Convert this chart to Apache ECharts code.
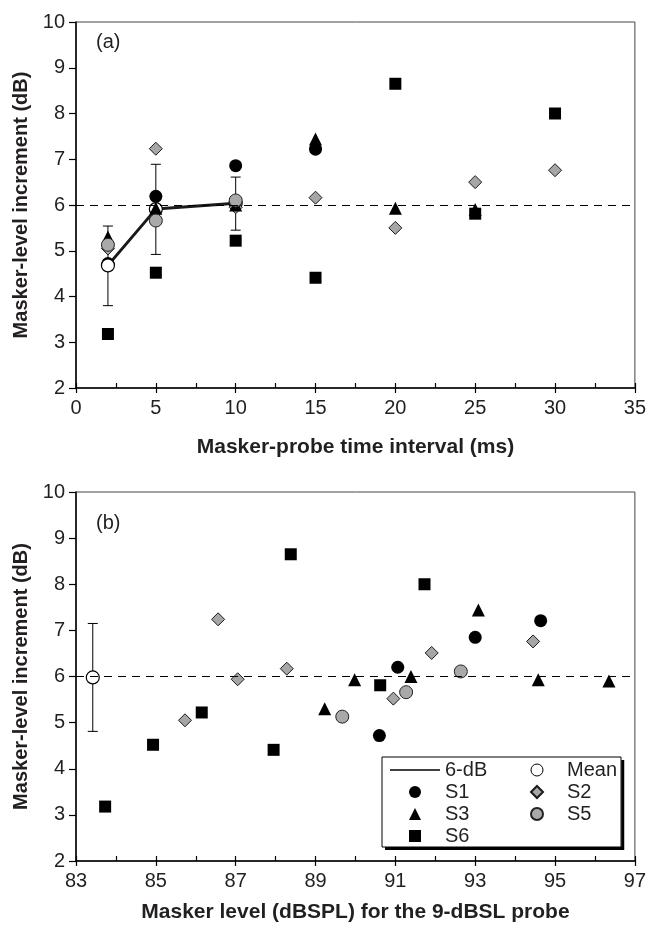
<!DOCTYPE html>
<html>
<head>
<meta charset="utf-8">
<script src="https://cdn.jsdelivr.net/npm/echarts@6/dist/echarts.min.js"></script>
<style>
html,body{margin:0;padding:0;background:#fff;}
#chart{width:649px;height:926px;}
</style>
</head>
<body>
<div id="chart"></div>
<script>
// ---------- Data ----------
// Panel (a): masker-probe time interval (ms)
const s1IntervalMs = [2, 5, 10, 15];
const s1IncA = [4.72, 6.19, 6.86, 7.22];
const s2IntervalMs = [2, 5, 10, 15, 20, 25, 30];
const s2IncA = [5.05, 7.23, 5.95, 6.16, 5.50, 6.50, 6.76];
const s3IntervalMs = [2, 5, 10, 15, 20, 25];
const s3IncA = [5.30, 5.93, 6.00, 7.44, 5.93, 5.90];
const s5IntervalMs = [2, 5, 10];
const s5IncA = [5.13, 5.66, 6.10];
const s6IntervalMs = [2, 5, 10, 15, 20, 25, 30];
const s6IncA = [3.18, 4.52, 5.22, 4.41, 8.65, 5.81, 8.00];
const meanIntervalMs = [2, 5, 10];
const meanIncA = [4.68, 5.91, 6.04];
const meanLowA = [3.80, 4.92, 5.45];
const meanHighA = [5.54, 6.89, 6.61];

// Panel (b): masker level (dBSPL) for the 9-dBSL probe
const s1Level = [90.60, 91.06, 93.00, 94.64];
const s1IncB = [4.72, 6.20, 6.85, 7.21];
const s2Level = [85.73, 86.56, 87.05, 88.28, 90.95, 91.91, 94.45];
const s2IncB = [5.05, 7.24, 5.94, 6.17, 5.52, 6.51, 6.76];
const s3Level = [89.23, 89.98, 91.39, 93.08, 94.58, 96.35];
const s3IncB = [5.30, 5.93, 6.00, 7.44, 5.93, 5.90];
const s5Level = [89.67, 91.27, 92.64];
const s5IncB = [5.13, 5.66, 6.11];
const s6Level = [83.73, 84.93, 86.15, 87.95, 88.38, 90.62, 91.73];
const s6IncB = [3.18, 4.52, 5.22, 4.41, 8.65, 5.81, 8.00];
const meanLevel = [83.42];
const meanIncB = [5.98];
const meanLowB = [4.81];
const meanHighB = [7.15];

const referenceLevel = 6; // 6-dB reference line

// axis settings
const xRangeA = [0, 35], xStepA = 5;
const xRangeB = [83, 97], xStepB = 2;
const yRange = [2, 10], yStep = 1;

// ---------- Helpers ----------
const zip = (xs, ys) => xs.map((x, i) => [x, ys[i]]);
const zip3 = (xs, lo, hi) => xs.map((x, i) => [x, lo[i], hi[i]]);
const FONT = '"Liberation Sans", Arial, Helvetica, sans-serif';
const TXT = '#231f20';

const GRID_A = { left: 76, right: 13, top: 22, height: 366 };
const GRID_B = { left: 76, right: 13, top: 492, height: 369 };

const STYLE = {
  S1: { symbol: 'circle', symbolSize: 13, itemStyle: { color: '#000', borderColor: '#000', borderWidth: 0, opacity: 1 } },
  S2: { symbol: 'diamond', symbolSize: 13, itemStyle: { color: '#a6a6a6', borderColor: '#1a1a1a', borderWidth: 1, opacity: 1 } },
  S3: { symbol: 'triangle', symbolSize: 13, itemStyle: { color: '#000', borderColor: '#000', borderWidth: 0, opacity: 1 } },
  S5: { symbol: 'circle', symbolSize: 13, itemStyle: { color: '#a9a9a9', borderColor: '#222', borderWidth: 1, opacity: 1 } },
  S6: { symbol: 'rect', symbolSize: 12, itemStyle: { color: '#000', borderColor: '#000', borderWidth: 0, opacity: 1 } },
  Mean: { symbol: 'circle', symbolSize: 13, itemStyle: { color: '#fff', borderColor: '#000', borderWidth: 1.2, opacity: 1 } }
};

function scatter(name, data, xi, yi) {
  return Object.assign({ type: 'scatter', name, data, xAxisIndex: xi, yAxisIndex: yi, z: 3 }, JSON.parse(JSON.stringify(STYLE[name])));
}

function renderErr(params, api) {
  const x = api.value(0), lo = api.value(1), hi = api.value(2);
  const a = api.coord([x, lo]), b = api.coord([x, hi]);
  const cap = 5;
  const st = { stroke: '#000', lineWidth: 1 };
  return {
    type: 'group',
    children: [
      { type: 'line', shape: { x1: a[0], y1: a[1], x2: b[0], y2: b[1] }, style: st },
      { type: 'line', shape: { x1: a[0] - cap, y1: a[1], x2: a[0] + cap, y2: a[1] }, style: st },
      { type: 'line', shape: { x1: b[0] - cap, y1: b[1], x2: b[0] + cap, y2: b[1] }, style: st }
    ]
  };
}

function mainX(grid, range, step, name, nameGap) {
  return {
    type: 'value', gridIndex: grid, position: 'bottom',
    min: range[0], max: range[1], interval: step,
    name, nameLocation: 'middle', nameGap,
    nameTextStyle: { fontFamily: FONT, fontSize: 21, fontWeight: 'bold', color: TXT },
    axisLine: { show: true, onZero: false, lineStyle: { color: '#000', width: 1.5 } },
    axisTick: { show: true, inside: false, length: 5, lineStyle: { color: '#000', width: 1.2 } },
    minorTick: { show: false },
    axisLabel: { margin: 10, fontFamily: FONT, fontSize: 20, color: TXT },
    splitLine: { show: false }
  };
}
// overlay axis to draw the upward (inside) ticks along the bottom edge
function tickX(grid, range, step, height) {
  return {
    type: 'value', gridIndex: grid, position: 'top', offset: -height,
    min: range[0], max: range[1], interval: step / 2,
    axisLine: { show: false },
    axisTick: { show: true, inside: false, length: 5, lineStyle: { color: '#000', width: 1.2 } },
    axisLabel: { show: false },
    splitLine: { show: false }
  };
}
function mainY(grid) {
  return {
    type: 'value', gridIndex: grid,
    min: yRange[0], max: yRange[1], interval: yStep,
    name: 'Masker-level increment (dB)', nameLocation: 'middle', nameGap: 42,
    nameTextStyle: { fontFamily: FONT, fontSize: 20, fontWeight: 'bold', color: TXT },
    axisLine: { show: true, onZero: false, lineStyle: { color: '#000', width: 1.5 } },
    axisTick: { show: true, inside: false, length: 7, lineStyle: { color: '#000', width: 1.2 } },
    axisLabel: { margin: 11, fontFamily: FONT, fontSize: 20, color: TXT },
    splitLine: { show: false }
  };
}

const dashedRef = (xi, yi, name) => ({
  type: 'line', name, xAxisIndex: xi, yAxisIndex: yi, data: [],
  symbol: 'none', lineStyle: { color: '#000', width: 1, type: 'solid' }, itemStyle: { color: '#000' },
  z: 1,
  markLine: {
    silent: true, symbol: ['none', 'none'], label: { show: false },
    lineStyle: { color: '#000', width: 1, type: [8, 6] },
    data: [{ yAxis: referenceLevel }]
  }
});

// legend icons (kept square by symbolKeepAspect)
const ICON = {
  line: 'path://M0,0 L50,0 L50,1.3 L0,1.3 Z',
  triangle: 'path://M5,0 L10,10 L0,10 Z',
  diamond: 'path://M5,0 L10,5 L5,10 L0,5 Z',
  rect: 'path://M0,0 L10,0 L10,10 L0,10 Z'
};

const legendCommon = {
  orient: 'vertical', itemWidth: 50, itemHeight: 12, itemGap: 2,
  selectedMode: false, symbolKeepAspect: true,
  textStyle: { fontFamily: FONT, fontSize: 20, lineHeight: 20, color: TXT }
};

const option = {
  animation: false,
  backgroundColor: '#fff',
  textStyle: { fontFamily: FONT },
  title: [
    { text: '(a)', left: 96, top: 32, padding: 0, textStyle: { fontFamily: FONT, fontSize: 20, fontWeight: 'normal', color: TXT } },
    { text: '(b)', left: 96, top: 513, padding: 0, textStyle: { fontFamily: FONT, fontSize: 20, fontWeight: 'normal', color: TXT } }
  ],
  grid: [
    Object.assign({ show: true, borderColor: '#444', borderWidth: 1, backgroundColor: 'transparent', containLabel: false }, GRID_A),
    Object.assign({ show: true, borderColor: '#444', borderWidth: 1, backgroundColor: 'transparent', containLabel: false }, GRID_B)
  ],
  xAxis: [
    mainX(0, xRangeA, xStepA, 'Masker-probe time interval (ms)', 49),
    tickX(0, xRangeA, xStepA, GRID_A.height),
    mainX(1, xRangeB, xStepB, 'Masker level (dBSPL) for the 9-dBSL probe', 41),
    tickX(1, xRangeB, xStepB, GRID_B.height)
  ],
  yAxis: [mainY(0), mainY(1)],
  legend: [
    // left column: white panel with hard black drop shadow
    Object.assign({}, legendCommon, {
      z: 6, left: 382, top: 757, padding: [3, 134, 1, 8],
      backgroundColor: '#fff', borderWidth: 0,
      shadowColor: '#000', shadowBlur: 0, shadowOffsetX: 3, shadowOffsetY: 3,
      data: [
        { name: '6-dB', icon: ICON.line, itemStyle: { color: '#000', borderWidth: 0 } },
        { name: 'S1', icon: 'circle' },
        { name: 'S3', icon: ICON.triangle },
        { name: 'S6', icon: ICON.rect }
      ]
    }),
    // right column: draws the frame border over the same box
    Object.assign({}, legendCommon, {
      z: 7, left: 382, top: 757, padding: [3, 4, 23, 148],
      backgroundColor: 'transparent', borderColor: '#000', borderWidth: 1,
      data: [
        { name: 'Mean', icon: 'circle', itemStyle: { borderWidth: 1 } },
        { name: 'S2', icon: ICON.diamond },
        { name: 'S5', icon: 'circle' }
      ]
    })
  ],
  series: [
    // Panel (a)
    dashedRef(0, 0, '6-dB'),
    { type: 'line', name: 'Mean trend', xAxisIndex: 0, yAxisIndex: 0, data: zip(meanIntervalMs, meanIncA),
      symbol: 'none', lineStyle: { color: '#1a1a1a', width: 3 }, z: 2 },
    { type: 'custom', name: 'Mean SD', xAxisIndex: 0, yAxisIndex: 0, renderItem: renderErr,
      encode: { x: 0, y: [1, 2] }, data: zip3(meanIntervalMs, meanLowA, meanHighA), z: 2 },
    scatter('S1', zip(s1IntervalMs, s1IncA), 0, 0),
    scatter('Mean', zip(meanIntervalMs, meanIncA), 0, 0),
    scatter('S2', zip(s2IntervalMs, s2IncA), 0, 0),
    scatter('S3', zip(s3IntervalMs, s3IncA), 0, 0),
    scatter('S5', zip(s5IntervalMs, s5IncA), 0, 0),
    scatter('S6', zip(s6IntervalMs, s6IncA), 0, 0),
    // Panel (b)
    dashedRef(2, 1, '6-dB'),
    { type: 'custom', name: 'Mean SD', xAxisIndex: 2, yAxisIndex: 1, renderItem: renderErr,
      encode: { x: 0, y: [1, 2] }, data: zip3(meanLevel, meanLowB, meanHighB), z: 2 },
    scatter('S1', zip(s1Level, s1IncB), 2, 1),
    scatter('Mean', zip(meanLevel, meanIncB), 2, 1),
    scatter('S2', zip(s2Level, s2IncB), 2, 1),
    scatter('S3', zip(s3Level, s3IncB), 2, 1),
    scatter('S5', zip(s5Level, s5IncB), 2, 1),
    scatter('S6', zip(s6Level, s6IncB), 2, 1)
  ]
};

const chart = echarts.init(document.getElementById('chart'), null, { renderer: 'canvas' });
chart.setOption(option);
</script>
</body>
</html>
